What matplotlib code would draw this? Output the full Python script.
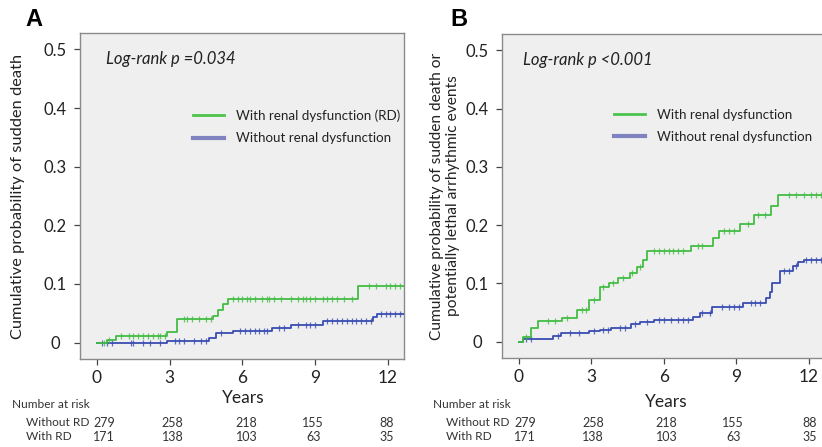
import numpy as np
import matplotlib
matplotlib.use("Agg")
import matplotlib.pyplot as plt

plt.rcParams['font.family'] = ['Lato', 'DejaVu Sans']

# ---------------- data ----------------
# Panel A: sudden death
a_rd_t = [0.0, 0.4, 0.8, 2.9, 3.3, 4.8, 5.0, 5.2, 5.4, 10.75]
a_rd_y = [0.0, 0.005, 0.012, 0.018, 0.040, 0.045, 0.055, 0.066, 0.075, 0.096]
a_rd_cens = [0.3, 0.5, 1.0, 1.3, 1.5, 1.7, 1.9, 2.1, 2.3, 2.5, 2.6, 2.8, 3.6, 3.7, 3.9,
             4.2, 4.5, 4.7, 5.6, 5.8, 6.0, 6.2, 6.3, 6.5, 6.8, 7.0, 7.1, 7.3, 7.6, 8.0,
             8.3, 8.5, 8.6, 8.8, 9.0, 9.3, 9.5, 9.7, 9.9, 10.2, 10.5, 11.2, 11.5, 11.9,
             12.1, 12.3, 12.5]
a_no_t = [0.0, 2.9, 4.6, 4.9, 5.6, 7.2, 8.0, 9.3, 11.4, 11.55]
a_no_y = [0.0, 0.003, 0.008, 0.016, 0.020, 0.025, 0.030, 0.037, 0.043, 0.048]
a_no_cens = [0.2, 0.4, 0.6, 1.4, 1.5, 1.9, 2.2, 2.6, 3.2, 3.4, 3.6, 4.0, 4.3, 4.5, 5.1,
             5.9, 6.1, 6.3, 6.5, 6.7, 6.9, 7.0, 7.5, 7.7, 8.3, 8.6, 8.8, 9.0, 9.5, 9.7,
             9.9, 10.1, 10.3, 10.5, 10.7, 10.9, 11.1, 11.3, 11.7, 11.9, 12.1, 12.3, 12.5]

# Panel B: sudden death or potentially lethal arrhythmic events
b_rd_t = [0.0, 0.17, 0.5, 0.8, 1.8, 2.4, 2.9, 3.35, 3.75, 4.1, 4.6, 4.9, 5.15, 5.3,
          7.15, 8.05, 8.3, 9.15, 9.75, 10.45, 10.75]
b_rd_y = [0.0, 0.008, 0.023, 0.035, 0.040, 0.055, 0.072, 0.094, 0.100, 0.110, 0.118,
          0.128, 0.140, 0.155, 0.165, 0.178, 0.190, 0.202, 0.218, 0.233, 0.251]
b_rd_cens = [0.3, 1.2, 1.5, 2.0, 2.6, 2.8, 3.1, 3.5, 3.9, 4.3, 4.7, 5.0, 5.6, 5.8, 6.0,
             6.2, 6.4, 6.6, 6.8, 7.4, 7.6, 8.5, 8.7, 8.9, 9.5, 9.9, 10.2, 11.2, 11.5,
             11.8, 12.1, 12.3, 12.5]
b_no_t = [0.0, 0.17, 1.4, 1.75, 2.9, 3.35, 3.8, 4.65, 5.0, 5.6, 7.2, 7.5, 8.0, 9.3,
          10.25, 10.4, 10.5, 10.8, 11.35, 11.55, 11.8]
b_no_y = [0.0, 0.004, 0.010, 0.015, 0.018, 0.020, 0.024, 0.030, 0.034, 0.038, 0.042,
          0.050, 0.060, 0.067, 0.075, 0.085, 0.100, 0.122, 0.130, 0.136, 0.141]
b_no_cens = [0.3, 0.5, 1.6, 2.1, 2.5, 3.1, 3.5, 3.7, 4.2, 4.4, 4.8, 5.3, 5.8, 6.0, 6.3,
             6.6, 6.8, 7.0, 7.6, 7.9, 8.4, 8.7, 8.9, 9.1, 9.6, 9.8, 10.0, 11.0, 11.2,
             11.5, 11.9, 12.1, 12.3, 12.5]

x_ticks = [0, 3, 6, 9, 12]
y_ticks = [0, 0.1, 0.2, 0.3, 0.4, 0.5]
y_tick_labels = ["0", "0.1", "0.2", "0.3", "0.4", "0.5"]
risk_without = [279, 258, 218, 155, 88]
risk_with = [171, 138, 103, 63, 35]

GREEN = "#44bd44"
BLUE = "#3a4db2"
LEG_GREEN = "#4cc44c"
LEG_BLUE = "#8083c0"
BG = "#efefef"
SPINE = "#8a8a8a"
TXT = "#222222"
XMAX = 12.66

fig = plt.figure(figsize=(8.22, 4.47), dpi=100)

def km(ax, t, y, cens, color):
    t = np.asarray(t, float)
    y = np.asarray(y, float)
    tt = np.append(t, XMAX)
    yy = np.append(y, y[-1])
    ax.step(tt, yy, where='post', color=color, lw=1.3, zorder=3, clip_on=True)
    c = np.asarray(cens, float)
    idx = np.searchsorted(t, c, side='right') - 1
    ax.plot(c, y[idx], ls='none', marker='|', ms=5, mew=0.9, color=color,
            zorder=3, alpha=0.8)

def setup(ax):
    ax.set_facecolor(BG)
    ax.set_xlim(-0.7, XMAX)
    ax.set_ylim(-0.028, 0.528)
    for s in ax.spines.values():
        s.set_color(SPINE)
        s.set_linewidth(1.0)
    ax.set_xticks(x_ticks)
    ax.set_xticklabels([str(v) for v in x_ticks], fontsize=12.5, color=TXT)
    ax.set_yticks(y_ticks)
    ax.set_yticklabels(y_tick_labels, fontsize=12, color=TXT)
    ax.tick_params(axis='both', direction='out', length=4, width=0.9, color="#444444")
    ax.tick_params(axis='x', pad=4)
    ax.tick_params(axis='y', pad=14)
    for lab in ax.get_yticklabels():
        lab.set_horizontalalignment('center')

def legend(ax, labels, anchor):
    h1, = ax.plot([], [], color=LEG_GREEN, lw=2)
    h2, = ax.plot([], [], color=LEG_BLUE, lw=3)
    ax.legend([h1, h2], labels, loc='upper left', bbox_to_anchor=anchor, frameon=False,
              fontsize=9.6, handlelength=2.3, handletextpad=0.9, labelspacing=0.78,
              labelcolor=TXT)

# ---------- Panel A ----------
axA = fig.add_axes([80/822, 1-359/447, 324/822, 326/447])
setup(axA)
km(axA, a_no_t, a_no_y, a_no_cens, BLUE)
km(axA, a_rd_t, a_rd_y, a_rd_cens, GREEN)
axA.set_ylabel("Cumulative probability of sudden death", fontsize=11.8, color=TXT)
axA.yaxis.set_label_coords(-0.17, 0.5)
axA.text(0.08, 0.92, "Log-rank p =0.034", transform=axA.transAxes, fontsize=12,
         style='italic', va='center', color=TXT)
legend(axA, ["With renal dysfunction (RD)", "Without renal dysfunction"], (0.312, 0.803))
fig.text(25/822, 1-20/447, "A", fontsize=17, fontweight='bold',
         family='Liberation Sans', va='center', ha='left')
fig.text(243/822, 1-398/447, "Years", fontsize=12.5, ha='center', va='center', color=TXT)

# ---------- Panel B ----------
axB = fig.add_axes([502/822, 1-358/447, 322.5/822, 324/447])
setup(axB)
km(axB, b_no_t, b_no_y, b_no_cens, BLUE)
km(axB, b_rd_t, b_rd_y, b_rd_cens, GREEN)
axB.set_ylabel("Cumulative probability of sudden death or\npotentially lethal arrhythmic events",
               fontsize=11.2, color=TXT, linespacing=1.15)
axB.yaxis.set_label_coords(-0.13, 0.5)
axB.text(0.065, 0.92, "Log-rank p <0.001", transform=axB.transAxes, fontsize=12,
         style='italic', va='center', color=TXT)
legend(axB, ["With renal dysfunction", "Without renal dysfunction"], (0.31, 0.807))
fig.text(450/822, 1-20/447, "B", fontsize=17, fontweight='bold',
         family='Liberation Sans', va='center', ha='left')
fig.text(666/822, 1-402/447, "Years", fontsize=12.5, ha='center', va='center', color=TXT)

# ---------- Number at risk tables ----------
def risk_table(ax, x_title, x_names, y_title, offsets):
    fig.text(x_title/822, 1-y_title/447, "Number at risk", fontsize=8.6, va='center',
             color="#333333")
    fig.text(x_names/822, 1-(y_title+18)/447, "Without RD", fontsize=8.6, va='center',
             color="#333333")
    fig.text(x_names/822, 1-(y_title+32)/447, "With RD", fontsize=8.6, va='center',
             color="#333333")
    for xt, off, n1, n2 in zip(x_ticks, offsets, risk_without, risk_with):
        xpix = ax.transData.transform((xt, 0))[0]
        fig.text((xpix + off)/822, 1-(y_title+18)/447, str(n1), fontsize=9,
                 ha='center', va='center', color="#333333")
        fig.text((xpix + off)/822, 1-(y_title+32)/447, str(n2), fontsize=9,
                 ha='center', va='center', color="#333333")

risk_table(axA, 12, 26, 405, [7, 3, 4, -2, -1])
risk_table(axB, 433, 446, 405, [6, 2, 3, -3, 1])

fig.savefig("out.png", dpi=100, facecolor='white')
